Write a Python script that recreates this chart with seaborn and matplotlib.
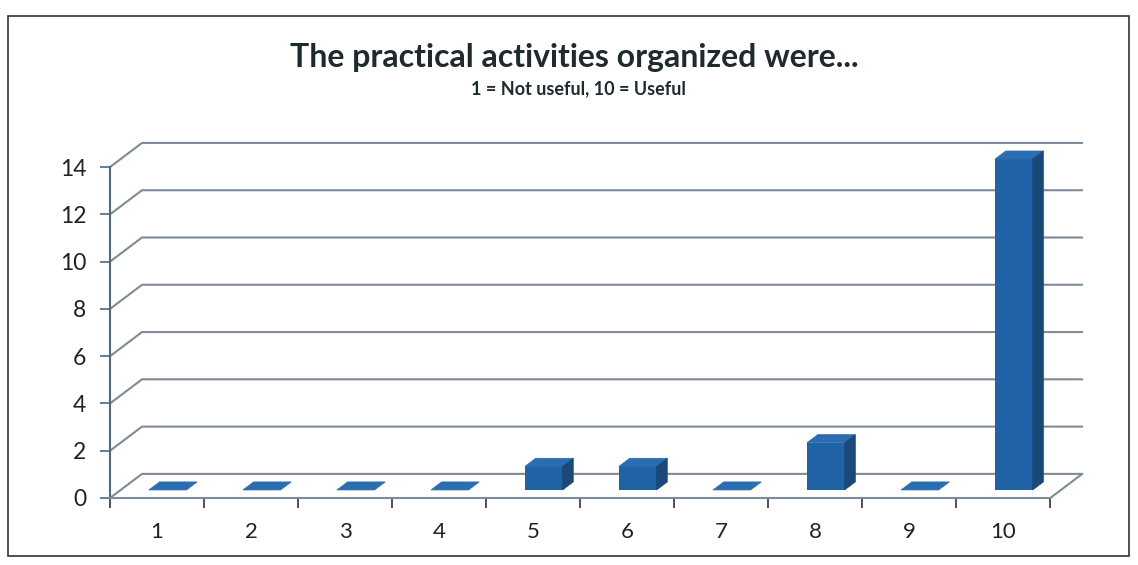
import numpy as np
import pandas as pd
import matplotlib
matplotlib.use("Agg")
import matplotlib.pyplot as plt
import seaborn as sns
from matplotlib.patches import Polygon, Rectangle

# data
ratings = ["1", "2", "3", "4", "5", "6", "7", "8", "9", "10"]
counts = [0, 0, 0, 0, 1, 1, 0, 2, 0, 14]
y_ticks = [0, 2, 4, 6, 8, 10, 12, 14]

df = pd.DataFrame({"rating": ratings, "count": counts})

sns.set_style("white")
plt.rcParams["font.family"] = ["Lato", "DejaVu Sans"]

front = "#1f62a6"
side = "#1a4878"
top = "#2a6db0"
grid_c = "#7d8b99"
axis_c = "#4d6a85"

fig = plt.figure(figsize=(11.38, 5.65), dpi=100)
ax = fig.add_axes([0.0967, 0.1186, 0.8543, 0.6284])

# depth of the fake 3d floor, in data units
ddx, ddy = 0.34, 1.02
f0, f1 = 1 / 3, 2 / 3

sns.barplot(data=df, x="rating", y="count", color=front, width=0.4,
            saturation=1, ax=ax, zorder=3)

# back wall gridlines + floor
for v in y_ticks:
    ax.plot([-0.5, -0.5 + ddx, 9.5 + ddx], [v, v + ddy, v + ddy],
            color=grid_c, lw=1.5, zorder=1, clip_on=False)
ax.plot([9.5, 9.5 + ddx], [0, ddy], color=grid_c, lw=1.5, zorder=1,
        clip_on=False)

# push bars back into the floor and add top / side faces
for p in ax.patches[:len(counts)]:
    x0 = p.get_x() + f0 * ddx
    y0 = f0 * ddy
    w = p.get_width()
    h = p.get_height()
    p.set_x(x0)
    p.set_y(y0)
    p.set_linewidth(0)
    dx = (f1 - f0) * ddx
    dy = (f1 - f0) * ddy
    top_face = Polygon([[x0, y0 + h], [x0 + w, y0 + h],
                        [x0 + w + dx, y0 + h + dy], [x0 + dx, y0 + h + dy]],
                       closed=True, facecolor=top, edgecolor=top, lw=0.5,
                       zorder=4)
    ax.add_patch(top_face)
    if h > 0:
        side_face = Polygon([[x0 + w, y0], [x0 + w + dx, y0 + dy],
                             [x0 + w + dx, y0 + h + dy], [x0 + w, y0 + h]],
                            closed=True, facecolor=side, edgecolor=side,
                            lw=0.5, zorder=4)
        ax.add_patch(side_face)

ax.set_xlim(-0.5, 9.5 + ddx)
ax.set_ylim(0, 14 + ddy)
ax.set_yticks(y_ticks)
ax.set_xticks(range(len(ratings)))
ax.set_xticklabels(ratings)
ax.set_xticks(np.arange(-0.5, 10, 1), minor=True)
ax.set_xlabel("")
ax.set_ylabel("")

for s in ["top", "right"]:
    ax.spines[s].set_visible(False)
ax.spines["left"].set_bounds(0, 14)
ax.spines["bottom"].set_bounds(-0.5, 9.5)
ax.spines["left"].set_color(axis_c)
ax.spines["bottom"].set_color(grid_c)
ax.spines["left"].set_linewidth(1.5)
ax.spines["bottom"].set_linewidth(1.5)

ax.tick_params(axis="y", which="major", length=7, width=1.2, color=axis_c,
               labelsize=16.5, pad=10, labelcolor="#222222", left=True)
ax.tick_params(axis="x", which="major", length=0, labelsize=16, pad=17,
               labelcolor="#222222")
ax.tick_params(axis="x", which="minor", length=7, width=1.2, color="#333333",
               bottom=True)

fig.text(0.505, 0.898, "The practical activities organized were...",
         ha="center", va="center", fontsize=23, fontweight="bold",
         color="#1e2a30")
fig.text(0.508, 0.843, "1 = Not useful, 10 = Useful", ha="center",
         va="center", fontsize=13, fontweight="bold", color="#1e2a30")

fig.add_artist(Rectangle((0.007, 0.016), 0.985, 0.955, transform=fig.transFigure,
                         fill=False, edgecolor="#333333", lw=1.2))

fig.savefig("out.png", dpi=100)
